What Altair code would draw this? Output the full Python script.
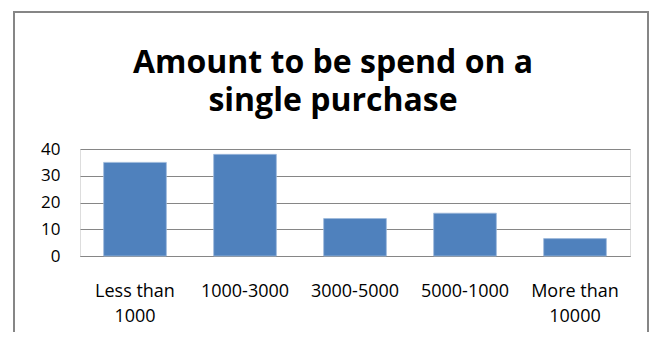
import altair as alt
import pandas as pd

categories = ["Less than 1000", "1000-3000", "3000-5000", "5000-1000", "More than 10000"]
values = [35, 38, 14, 16, 6.5]
title_lines = ["Amount to be spend on a", "single purchase"]

df = pd.DataFrame({"category": categories, "value": values})
title_df = pd.DataFrame({"line": title_lines, "row": [0, 1]})

FONT = "Open Sans"

bars = alt.Chart(df).mark_bar(color="#4F81BD", stroke="#9DB9DC", strokeWidth=0.8).encode(
    x=alt.X(
        "category:N",
        sort=categories,
        title=None,
        scale=alt.Scale(paddingInner=0.43, paddingOuter=0.215),
        axis=alt.Axis(
            labelAngle=0,
            labelFont=FONT,
            labelFontSize=18,
            labelColor="#000000",
            labelPadding=26,
            labelLineHeight=25,
            labelBaseline="top",
            labelLimit=300,
            ticks=False,
            domain=True,
            domainColor="#868686",
            labelExpr="indexof(datum.label, 'than') > 0 ? [substring(datum.label, 0, indexof(datum.label, 'than') + 4), substring(datum.label, indexof(datum.label, 'than') + 5)] : datum.label",
        ),
    ),
    y=alt.Y(
        "value:Q",
        title=None,
        scale=alt.Scale(domain=[0, 40], nice=False),
        axis=alt.Axis(
            values=[0, 10, 20, 30, 40],
            labelFont=FONT,
            labelFontSize=17,
            labelColor="#000000",
            labelPadding=20,
            ticks=False,
            domain=False,
            grid=True,
            gridColor="#868686",
            gridWidth=1,
        ),
    ),
)

border = alt.Chart(df).mark_rect(fill=None, stroke="#868686", strokeWidth=2).encode(
    x=alt.value(-66), x2=alt.value(568), y=alt.value(-137), y2=alt.value(230)
)

title = alt.Chart(title_df).mark_text(
    font=FONT, fontSize=32, fontWeight="bold", color="#000000", align="center", baseline="alphabetic"
).encode(
    text="line:N",
    x=alt.value(253),
    y=alt.Y("row:Q", axis=None, scale=alt.Scale(domain=[0, 1], range=[-76, -38], nice=False, zero=False)),
)

chart = alt.layer(border, bars, title).resolve_scale(y="independent").properties(
    width=550,
    height=107,
    autosize=alt.AutoSizeParams(type="none"),
    padding={"left": 72, "top": 141, "right": 20, "bottom": 76},
).configure_view(stroke=None).configure(background="white")

chart.save("out.html", embed_options={"renderer": "svg", "actions": False})
